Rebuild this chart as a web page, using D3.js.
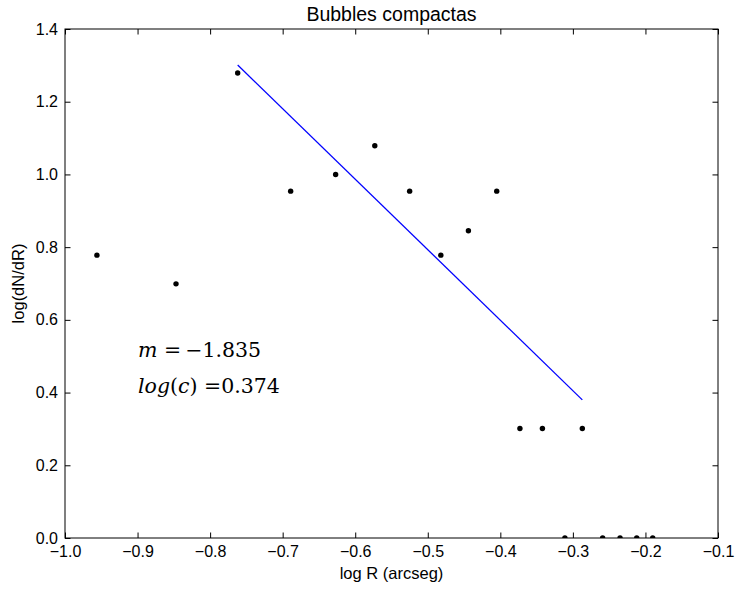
<!DOCTYPE html>
<html><head><meta charset="utf-8">
<script src="https://cdn.jsdelivr.net/npm/d3@7"></script>
<style>body{margin:0;background:#fff}</style>
</head><body>
<svg id="c" width="736" height="589"></svg>
<script>
const logR = [-0.956,-0.847,-0.762,-0.689,-0.627,-0.573,-0.525,-0.482,-0.444,-0.405,-0.373,-0.342,-0.311,-0.287,-0.259,-0.235,-0.212,-0.190];
const logN = [0.778,0.699,1.279,0.954,1.0,1.079,0.954,0.778,0.845,0.954,0.301,0.301,0.0,0.301,0.0,0.0,0.0,0.0];
const fitX = [-0.762,-0.287];
const fitY = [1.301,0.380];
const xTicks = [-1.0,-0.9,-0.8,-0.7,-0.6,-0.5,-0.4,-0.3,-0.2,-0.1];
const yTicks = [0.0,0.2,0.4,0.6,0.8,1.0,1.2,1.4];
const title = "Bubbles compactas";
const xLabel = "log R (arcseg)";
const yLabel = "log(dN/dR)";

const svg = d3.select("#c");
const L=65, R=718, T=29, B=538;
const x = d3.scaleLinear().domain([-1.0,-0.1]).range([L,R]);
const y = d3.scaleLinear().domain([0,1.4]).range([B,T]);
const font = "'Liberation Sans', Arial, sans-serif";
const fmt = v => (v<0?"\u2212":"") + Math.abs(v).toFixed(1);

svg.append("clipPath").attr("id","clip").append("rect").attr("x",L).attr("y",T).attr("width",R-L).attr("height",B-T);

// fit line
svg.append("path").datum(fitX.map((d,i)=>[d,fitY[i]]))
  .attr("d", d3.line().x(d=>x(d[0])).y(d=>y(d[1])))
  .attr("stroke","#0000ff").attr("stroke-width",1.3).attr("fill","none");

// points
svg.append("g").attr("clip-path","url(#clip)").selectAll("circle").data(logR).join("circle")
  .attr("cx",(d)=>x(d)).attr("cy",(d,i)=>y(logN[i])).attr("r",2.7).attr("fill","#000");

// axes (ticks inward)
const tl = 5.5;
const gB = svg.append("g").attr("transform",`translate(0,${B})`)
  .call(d3.axisBottom(x).tickValues(xTicks).tickSize(-tl).tickPadding(8).tickFormat(fmt));
const gT = svg.append("g").attr("transform",`translate(0,${T})`)
  .call(d3.axisTop(x).tickValues(xTicks).tickSize(-tl).tickFormat(""));
const gL = svg.append("g").attr("transform",`translate(${L},0)`)
  .call(d3.axisLeft(y).tickValues(yTicks).tickSize(-tl).tickPadding(7).tickFormat(d=>d.toFixed(1)));
const gR = svg.append("g").attr("transform",`translate(${R},0)`)
  .call(d3.axisRight(y).tickValues(yTicks).tickSize(-tl).tickFormat(""));
[gB,gT,gL,gR].forEach(g=>{
  g.select(".domain").remove();
  g.selectAll("line").attr("stroke","#000").attr("stroke-width",1);
  g.selectAll("text").attr("font-family",font).attr("font-size",16).attr("fill","#000");
});
svg.append("rect").attr("x",L).attr("y",T).attr("width",R-L).attr("height",B-T)
  .attr("fill","none").attr("stroke","#000").attr("stroke-width",1);

// title & labels
svg.append("text").attr("x",(L+R)/2).attr("y",21).attr("text-anchor","middle")
  .attr("font-family",font).attr("font-size",19.5).text(title);
svg.append("text").attr("x",(L+R)/2).attr("y",579).attr("text-anchor","middle")
  .attr("font-family",font).attr("font-size",16.5).text(xLabel);
svg.append("text").attr("transform",`translate(24,${(T+B)/2}) rotate(-90)`).attr("text-anchor","middle")
  .attr("font-family",font).attr("font-size",16.5).text(yLabel);

// annotation
const serif = "'DejaVu Serif', serif";
const a1 = svg.append("text").attr("x",138).attr("y",357).attr("font-family",serif).attr("font-size",20.5);
a1.append("tspan").attr("font-style","italic").text("m");
a1.append("tspan").text(" =\u2009\u22121.835");
const a2 = svg.append("text").attr("x",138).attr("y",393).attr("font-family",serif).attr("font-size",20.5);
a2.append("tspan").attr("font-style","italic").text("log");
a2.append("tspan").text("(");
a2.append("tspan").attr("font-style","italic").text("c");
a2.append("tspan").text(") =0.374");
</script>
</body></html>
